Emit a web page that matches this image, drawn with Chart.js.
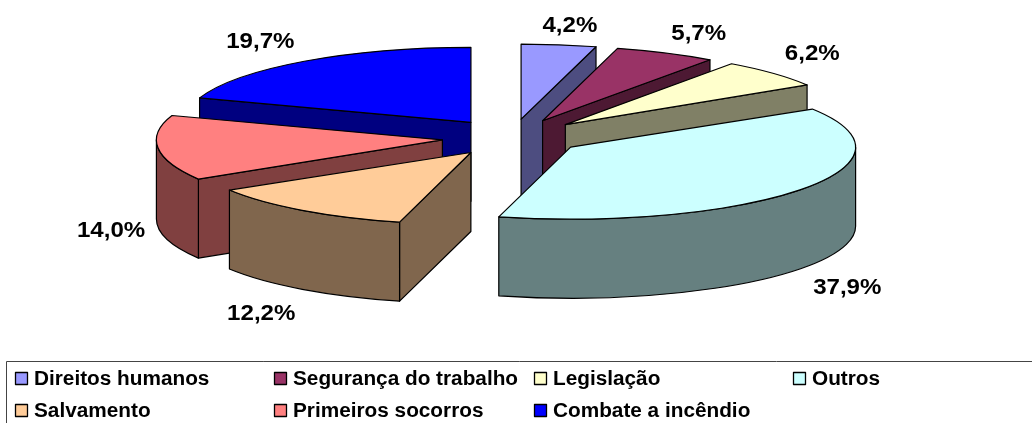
<!DOCTYPE html>
<html>
<head>
<meta charset="utf-8">
<style>html,body{margin:0;padding:0;background:#fff}canvas{display:block}</style>
<script src="https://cdn.jsdelivr.net/npm/chart.js@4/dist/chart.umd.min.js"></script>
</head>
<body>
<canvas id="c" width="1032" height="423" style="width:1032px;height:423px"></canvas>
<script>
const categories = ["Direitos humanos","Segurança do trabalho","Legislação","Outros","Salvamento","Primeiros socorros","Combate a incêndio"];
const values = [4.2,5.7,6.2,37.9,12.2,14.0,19.7];
const valueLabels = ["4,2%","5,7%","6,2%","37,9%","12,2%","14,0%","19,7%"];
const topColors = ["#9999FF","#993366","#FFFFCC","#CCFFFF","#FFCC99","#FF8080","#0000FF"];
const wallColors = ["#4D4D80","#4D1933","#808066","#668080","#80664D","#804040","#000080"];

const view = {cx:512, cy:138, ry:75, rx:287, explode:69, depth:79};
const faceRx = [287,287,285,285,283,286,287];
const faceRy = [75,75,75,72,72,75,75];
const tipShift = [[0,-1],[1,-1],[3,-1],[3,-1.5],[0,0],[-1,0],[-1,-1]];
const paintOrder = [0,1,2,3,6,5,4];
const labelNudge = [[11,-21],[33,-21],[39,-21],[47,96],[-41,102],[-47,81],[-44,-21]];
const FONT = '"Liberation Sans", Arial, sans-serif';
const LABEL_SIZE = 22.5, LABEL_STRETCH = 1.07;
const LEGEND_SIZE = 19.5, LEGEND_STRETCH = 1.065;

function geom(arc,i){
  const a = arc.startAngle, b = arc.endAngle, m = (a+b)/2;
  const tx = view.cx + Math.cos(m)*view.explode + tipShift[i][0];
  const ty = view.cy + Math.sin(m)*view.explode*view.ry/view.rx + tipShift[i][1];
  return {a,b,m,tx,ty,rx:faceRx[i],ry:faceRy[i]};
}
function edge(g,t){ return [g.tx+Math.cos(t)*g.rx, g.ty+Math.sin(t)*g.ry]; }

function paintPath(ctx,fill){
  if(fill){ctx.fillStyle=fill;ctx.fill();}
  ctx.lineWidth=1.2;ctx.strokeStyle="#000";ctx.lineJoin="round";ctx.stroke();
}
function side(ctx,g,t,color){
  const [x,y]=edge(g,t);
  ctx.beginPath();
  ctx.moveTo(g.tx,g.ty);ctx.lineTo(x,y);ctx.lineTo(x,y+view.depth);ctx.lineTo(g.tx,g.ty+view.depth);ctx.closePath();
  paintPath(ctx,color);
}
function outerWall(ctx,g,color){
  const s=Math.max(g.a,0), e=Math.min(g.b,Math.PI);
  if(e<=s) return;
  ctx.beginPath();
  ctx.ellipse(g.tx,g.ty,g.rx,g.ry,0,s,e,false);
  ctx.ellipse(g.tx,g.ty+view.depth,g.rx,g.ry,0,e,s,true);
  ctx.closePath();
  paintPath(ctx,color);
}

const pie3d = {
  id:"pie3d",
  beforeDatasetsDraw(chart){
    const ctx=chart.ctx, arcs=chart.getDatasetMeta(0).data;
    for(const i of paintOrder){
      const arc=arcs[i], g=geom(arc,i), R=arc.outerRadius;
      if(Math.cos(g.a)<-1e-6) side(ctx,g,g.a,wallColors[i]);
      if(Math.cos(g.b)>1e-6) side(ctx,g,g.b,wallColors[i]);
      outerWall(ctx,g,wallColors[i]);
      ctx.save();
      ctx.translate(g.tx,g.ty);
      ctx.scale(g.rx/R,g.ry/R);
      ctx.translate(-arc.x,-arc.y);
      arc.draw(ctx);
      ctx.restore();
      ctx.beginPath();
      ctx.moveTo(g.tx,g.ty);
      ctx.ellipse(g.tx,g.ty,g.rx,g.ry,0,g.a,g.b,false);
      ctx.closePath();
      paintPath(ctx,null);
    }
    return false;
  },
  afterDraw(chart){
    const ctx=chart.ctx, arcs=chart.getDatasetMeta(0).data;
    function stretchedText(t,x,y,size,stretch,align){
      ctx.save();
      ctx.font='bold '+size+'px '+FONT;
      ctx.fillStyle="#000";ctx.textAlign=align;ctx.textBaseline="alphabetic";
      ctx.translate(x,y);ctx.scale(stretch,1);
      ctx.fillText(t,0,0);
      ctx.restore();
    }
    valueLabels.forEach((t,i)=>{
      const g=geom(arcs[i],i); const [x,y]=edge(g,g.m);
      stretchedText(t,x+labelNudge[i][0],y+labelNudge[i][1]+8,LABEL_SIZE,LABEL_STRETCH,"center");
    });
    ctx.strokeStyle="#444";ctx.lineWidth=1;
    ctx.strokeRect(6.5,361.5,1040,80);
    const cols=[15,274,534,793], rows=[378,410];
    categories.forEach((c,i)=>{
      const x=cols[i%4], y=rows[Math.floor(i/4)];
      ctx.fillStyle=topColors[i];
      ctx.fillRect(x+.5,y-5.5,12,12);
      ctx.strokeStyle="#000";ctx.lineWidth=1.3;ctx.strokeRect(x+.5,y-5.5,12,12);
      stretchedText(c,x+19,y+7,LEGEND_SIZE,LEGEND_STRETCH,"left");
    });
  }
};

new Chart(document.getElementById("c"),{
  type:"pie",
  data:{labels:categories,datasets:[{data:values,backgroundColor:topColors,borderWidth:0}]},
  options:{
    responsive:false,animation:false,
    layout:{padding:0},
    plugins:{legend:{display:false},tooltip:{enabled:false},title:{display:false}}
  },
  plugins:[pie3d]
});
</script>
</body>
</html>
